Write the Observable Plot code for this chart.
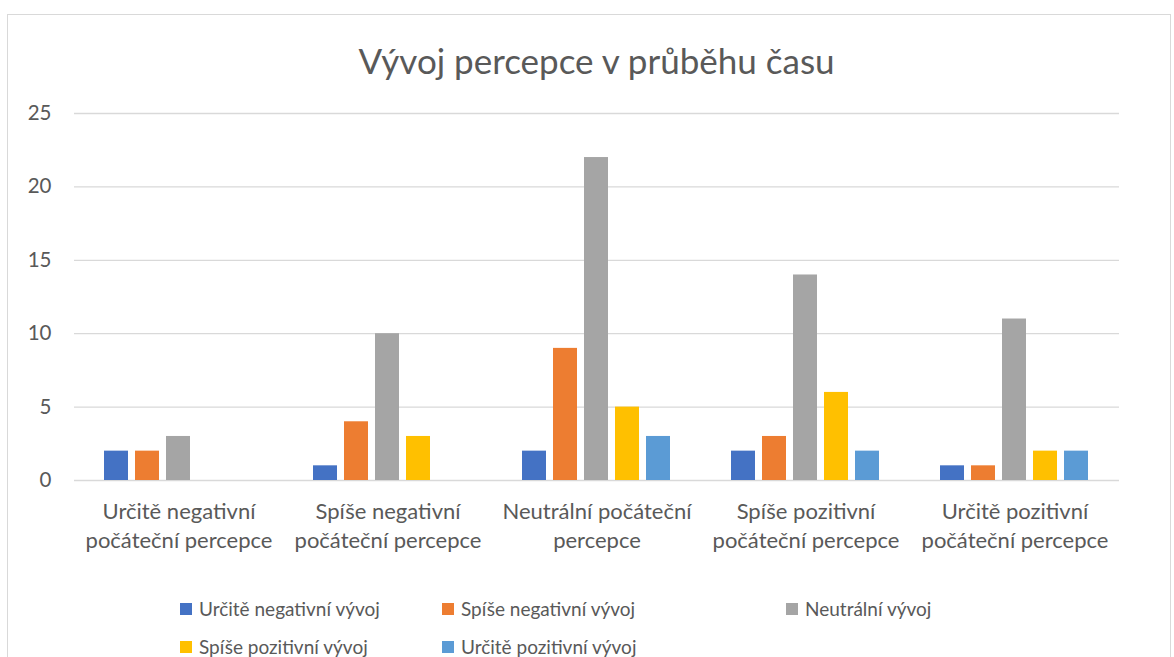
<!DOCTYPE html>
<html>
<head>
<meta charset="utf-8">
<script src="https://cdn.jsdelivr.net/npm/d3@7"></script>
<script src="https://cdn.jsdelivr.net/npm/@observablehq/plot@0.6"></script>
<style>
  html, body { margin: 0; padding: 0; background: #fff; overflow: hidden; }
  body { width: 1174px; height: 657px; position: relative; font-family: "Lato", "Open Sans", sans-serif; color: #595959; }
  #frame { position: absolute; left: 7px; top: 14px; width: 1164px; height: 700px; border: 1px solid #d9d9d9; box-sizing: border-box; }
  #title { position: absolute; left: 72px; width: 1049px; top: 38px; text-align: center; font-size: 35px; line-height: 44px; color: #595959; }
  #chart { position: absolute; left: 0; top: 0; }
  #legend { position: absolute; left: 180px; top: 597px; display: grid; grid-template-columns: 262px 344px auto; row-gap: 14px; font-size: 19px; line-height: 24px; }
  .item { display: flex; align-items: center; white-space: nowrap; }
  .sw { width: 12px; height: 12px; margin-right: 7px; flex: none; }
</style>
</head>
<body>
<div id="frame"></div>
<div id="title">Vývoj percepce v průběhu času</div>
<div id="chart"></div>
<div id="legend"></div>
<script>
const categories = [
  "Určitě negativní počáteční percepce",
  "Spíše negativní počáteční percepce",
  "Neutrální počáteční percepce",
  "Spíše pozitivní počáteční percepce",
  "Určitě pozitivní počáteční percepce"
];
const categoryLabels = [
  "Určitě negativní\npočáteční percepce",
  "Spíše negativní\npočáteční percepce",
  "Neutrální počáteční\npercepce",
  "Spíše pozitivní\npočáteční percepce",
  "Určitě pozitivní\npočáteční percepce"
];
const seriesNames = [
  "Určitě negativní vývoj",
  "Spíše negativní vývoj",
  "Neutrální vývoj",
  "Spíše pozitivní vývoj",
  "Určitě pozitivní vývoj"
];
const urciteNegativniVyvoj = [2, 1, 2, 2, 1];
const spiseNegativniVyvoj  = [2, 4, 9, 3, 1];
const neutralniVyvoj       = [3, 10, 22, 14, 11];
const spisePozitivniVyvoj  = [0, 3, 5, 6, 2];
const urcitePozitivniVyvoj = [0, 0, 3, 2, 2];
const seriesColors = ["#4472C4", "#ED7D31", "#A5A5A5", "#FFC000", "#5B9BD5"];
const yTicks = [0, 5, 10, 15, 20, 25];

const seriesValues = [urciteNegativniVyvoj, spiseNegativniVyvoj, neutralniVyvoj, spisePozitivniVyvoj, urcitePozitivniVyvoj];
const data = [];
categories.forEach((c, i) => {
  seriesNames.forEach((s, j) => {
    data.push({category: c, series: s, value: seriesValues[j][i]});
  });
});

const plot = Plot.plot({
  width: 1174,
  height: 590,
  marginTop: 113,
  marginBottom: 110,
  marginLeft: 72,
  marginRight: 53,
  style: {fontFamily: "Lato, 'Open Sans', sans-serif", color: "#595959", background: "transparent"},
  fx: {domain: categories, paddingInner: 0.238, paddingOuter: 0.119, axis: null, label: null},
  x: {domain: seriesNames, paddingInner: 0.22, paddingOuter: 0.11, axis: null, label: null},
  y: {domain: [0, 25], axis: null, label: null},
  color: {domain: seriesNames, range: seriesColors},
  marks: [
    Plot.ruleY(yTicks, {stroke: "#d9d9d9", strokeWidth: 1.3, insetLeft: -25, insetRight: -25}),
    Plot.axisY(yTicks, {tickSize: 0, tickPadding: 48, fontSize: 20.5, fill: "#595959", label: null}),
    Plot.barY(data, {fx: "category", x: "series", y: "value", fill: "series"}),
    Plot.axisFx({anchor: "bottom", tickSize: 0, tickPadding: 18, fontSize: 22, lineHeight: 1.32, fill: "#595959",
      tickFormat: d => categoryLabels[categories.indexOf(d)], label: null})
  ]
});
document.getElementById("chart").appendChild(plot);

const legend = document.getElementById("legend");
seriesNames.forEach((s, i) => {
  const item = document.createElement("div");
  item.className = "item";
  const sw = document.createElement("span");
  sw.className = "sw";
  sw.style.background = seriesColors[i];
  const t = document.createElement("span");
  t.textContent = s;
  item.appendChild(sw);
  item.appendChild(t);
  legend.appendChild(item);
});
</script>
</body>
</html>
